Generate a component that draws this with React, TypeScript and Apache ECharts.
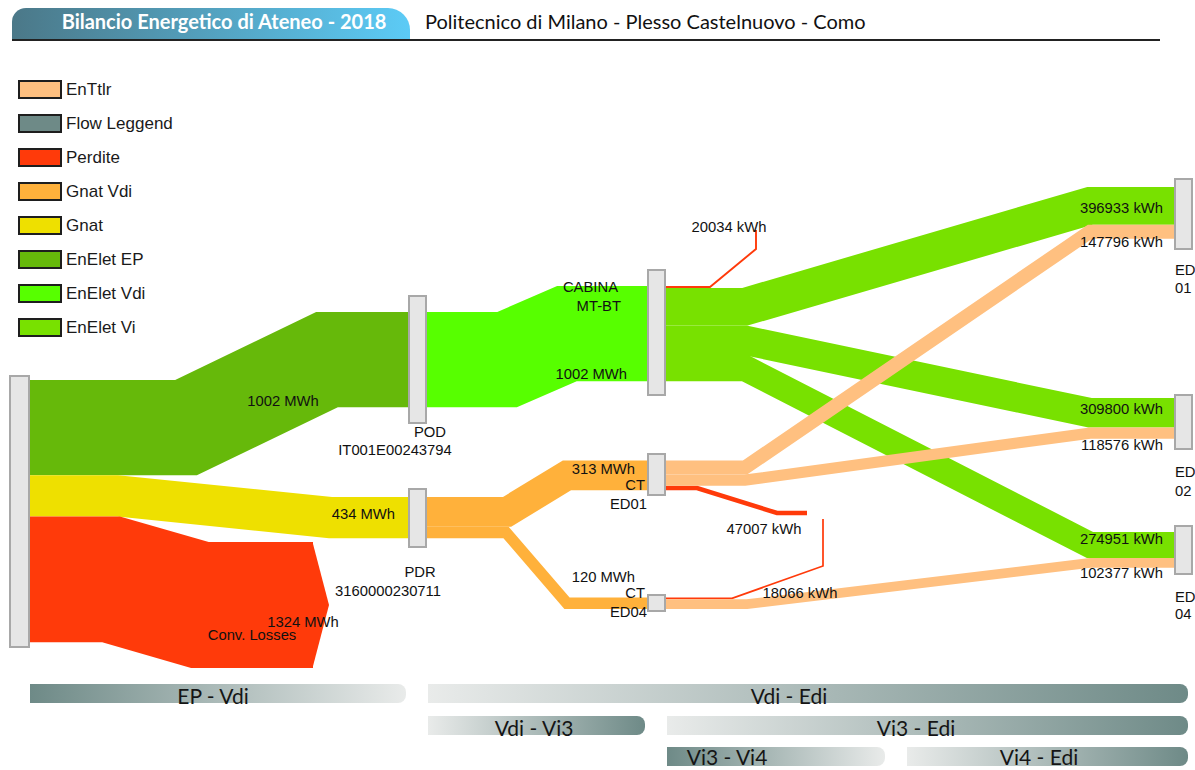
import React, { useEffect, useRef } from "react";
import * as echarts from "echarts";

// ---------------- legend categories ----------------
const categoryNames = ["EnTtlr", "Flow Leggend", "Perdite", "Gnat Vdi", "Gnat", "EnElet EP", "EnElet Vdi", "EnElet Vi"];
const categoryColors = ["#ffc080", "#6e8a87", "#ff3a0a", "#ffb13b", "#eee000", "#66b90a", "#57ff00", "#78e100"];
// drawing order of flow categories (later = on top)
const drawOrder = ["EnElet EP", "Gnat", "Perdite", "EnElet Vdi", "Gnat Vdi", "EnElet Vi", "EnTtlr"];

// ---------------- header ----------------
const titleText = "Bilancio Energetico di Ateneo - 2018";
const subtitleText = "Politecnico di Milano - Plesso Castelnuovo - Como";

// ---------------- nodes (layout units) ----------------
const nodeNames = ["Fonti", "POD", "PDR", "CABINA MT-BT", "CT ED01", "CT ED04", "ED01", "ED02", "ED04"];
const nodeX = [10, 409, 409, 648, 648, 648, 1175, 1175, 1175];
const nodeW = [19, 17, 17, 17, 17, 17, 17, 17, 17];
const nodeTop = [376, 296, 489, 270, 454, 595, 179, 395, 526];
const nodeBottom = [647, 423, 547, 395, 495, 611, 249, 449, 574];
const nodeInStart = [0, 312, 497, 286, 460.5, 597.5, 187, 398, 532];
const nodeOutStart = [380, 312, 497, 286, 460.5, 597.5, 0, 0, 0];

// node labels
const nodeLabelText = ["POD", "IT001E00243794", "PDR", "3160000230711", "CABINA", "MT-BT", "CT", "ED01", "CT", "ED04", "ED", "01", "ED", "02", "ED", "04", "Conv. Losses"];
const nodeLabelX = [430, 395, 420, 388, 618, 621, 645, 647, 645, 647, 1175, 1175, 1175, 1175, 1175, 1175, 252];
const nodeLabelY = [432, 450, 572, 591, 287, 306, 485, 504, 593, 612, 270, 288, 472, 491, 597, 614, 635];
const nodeLabelAlign = ["center", "center", "center", "center", "right", "right", "right", "right", "right", "right", "left", "left", "left", "left", "left", "left", "center"];

// ---------------- flows ----------------
const flowFrom = [0, 0, 0, 1, 2, 2, 3, 3, 3, 3, 4, 4, 4, 5, 5];
const flowTo = [1, 2, -1, 3, 4, 5, -1, 6, 7, 8, 6, 7, -1, -1, 8];
const flowKWh = [1002000, 434000, 1324000, 1002000, 313000, 120000, 20034, 396933, 309800, 274951, 147796, 118576, 47007, 18066, 102377];
const flowCategory = ["EnElet EP", "Gnat", "Perdite", "EnElet Vdi", "Gnat Vdi", "Gnat Vdi", "Perdite", "EnElet Vi", "EnElet Vi", "EnElet Vi", "EnTtlr", "EnTtlr", "Perdite", "Perdite", "EnTtlr"];
const flowUnit = ["MWh", "MWh", "MWh", "MWh", "MWh", "MWh", "kWh", "kWh", "kWh", "kWh", "kWh", "kWh", "kWh", "kWh", "kWh"];
// route bends (x of the two elbows)
const flowBend1 = [186, 117, 111, 507, 507, 506, 710, 745, 745, 745, 745, 745, 697, 732, 747];
const flowBend2 = [327, 330, 200, 567, 567, 567, 756, 1090, 1090, 1090, 1090, 1090, 777, 823, 1090];
// open-ended flows (losses): y at second elbow, tail end point, arrow head
const flowEndY = [0, 0, 605, 0, 0, 0, 249, 0, 0, 0, 0, 0, 513, 566, 0];
const flowTailX = [0, 0, 313, 0, 0, 0, 756, 0, 0, 0, 0, 0, 807, 823, 0];
const flowTailY = [0, 0, 605, 0, 0, 0, 230, 0, 0, 0, 0, 0, 513, 519, 0];
const flowArrow = [false, false, true, false, false, false, false, false, false, false, false, false, false, false, false];
// value label anchors
const flowLabelX = [283, 395, 303, 627, 635, 635, 729, 1163, 1163, 1163, 1163, 1163, 764, 800, 1163];
const flowLabelY = [401, 514, 622, 374, 469, 577, 227, 208, 409, 539, 242, 445, 529, 593, 573];
const flowLabelAlign = ["center", "right", "center", "right", "right", "right", "center", "right", "right", "right", "right", "right", "center", "center", "right"];

const UNITS_PER_KWH = 0.000095;
const ARROW_LEN = 16;

// ---------------- stage bars (Flow Leggend) ----------------
const stageNames = ["EP - Vdi", "Vdi - Edi", "Vdi - Vi3", "Vi3 - Edi", "Vi3 - Vi4", "Vi4 - Edi"];
const stageStart = [30, 428, 428, 667, 667, 907];
const stageEnd = [406, 1188, 645, 1188, 885, 1188];
const stageRow = [0, 0, 1, 1, 2, 2];
const stageDarkLeft = [true, false, false, false, true, false];
const stageTextX = [213, 789, 534, 916, 727, 1039];
const rowTop = [684, 716, 747];
const rowTextDy = [2, 2, 0];
const ROW_H = 19;

// ---------------- derived layout ----------------
const flowWidth = flowKWh.map((v) => v * UNITS_PER_KWH);
const flowPoints: number[][][] = [];
(() => {
  const outCur = nodeOutStart.slice();
  const inCur = nodeInStart.slice();
  for (let i = 0; i < flowKWh.length; i++) {
    const w = flowWidth[i];
    const s = flowFrom[i];
    const y0 = outCur[s] + w / 2;
    outCur[s] += w;
    const sx = nodeX[s] + nodeW[s];
    const t = flowTo[i];
    if (t >= 0) {
      const y1 = inCur[t] + w / 2;
      inCur[t] += w;
      flowPoints.push([[sx, y0], [flowBend1[i], y0], [flowBend2[i], y1], [nodeX[t], y1]]);
    } else {
      flowPoints.push([[sx, y0], [flowBend1[i], y0], [flowBend2[i], flowEndY[i]], [flowTailX[i], flowTailY[i]]]);
    }
  }
})();

const colorOf = (cat: string) => categoryColors[categoryNames.indexOf(cat)];
const LABEL_FONT = "14.8px 'Liberation Sans', Arial, sans-serif";

export default function App() {
  const ref = useRef<HTMLDivElement>(null);

  useEffect(() => {
    document.body.style.margin = "0";
    const chart = echarts.init(ref.current!, null, { renderer: "svg" });

    const renderFlow = (params: any, api: any) => {
      const i = api.value(0);
      const pts = flowPoints[i].map((p) => api.coord(p));
      const w = api.size([0, flowWidth[i]])[1];
      const color = colorOf(flowCategory[i]);
      const children: any[] = [
        {
          type: "polyline",
          shape: { points: pts },
          style: { fill: "none", stroke: color, lineWidth: w, lineJoin: "miter", miterLimit: 10, lineCap: "butt" },
        },
      ];
      if (flowArrow[i]) {
        const last = flowPoints[i][flowPoints[i].length - 1];
        const top = api.coord([last[0] - 0.5, last[1] - flowWidth[i] / 2]);
        const tip = api.coord([last[0] + ARROW_LEN, last[1]]);
        const bot = api.coord([last[0] - 0.5, last[1] + flowWidth[i] / 2]);
        children.push({ type: "polygon", shape: { points: [top, tip, bot] }, style: { fill: color } });
      }
      return { type: "group", children };
    };

    const flowSeries = drawOrder.map((cat, k) => ({
      type: "custom",
      name: cat,
      coordinateSystem: "cartesian2d",
      silent: true,
      z: 2 + k * 0.01,
      itemStyle: { color: colorOf(cat) },
      data: flowKWh.map((_, i) => i).filter((i) => flowCategory[i] === cat).map((i) => [i, 0]),
      renderItem: renderFlow,
    }));

    const stageSeries = {
      type: "custom",
      name: "Flow Leggend",
      coordinateSystem: "cartesian2d",
      silent: true,
      z: 2,
      itemStyle: { color: colorOf("Flow Leggend") },
      data: stageNames.map((_, i) => [i, 0]),
      renderItem: (params: any, api: any) => {
        const i = api.value(0);
        const r = stageRow[i];
        const p0 = api.coord([stageStart[i], rowTop[r]]);
        const p1 = api.coord([stageEnd[i], rowTop[r] + ROW_H]);
        const dark = "#6e8a87";
        const light = "#e9ebea";
        const stops = stageDarkLeft[i]
          ? [{ offset: 0, color: dark }, { offset: 1, color: light }]
          : [{ offset: 0, color: light }, { offset: 1, color: dark }];
        const tx = api.coord([stageTextX[i], rowTop[r]])[0];
        return {
          type: "group",
          children: [
            {
              type: "rect",
              shape: { x: p0[0], y: p0[1], width: p1[0] - p0[0], height: p1[1] - p0[1], r: [0, 8, 8, 0] },
              style: { fill: new echarts.graphic.LinearGradient(0, 0, 1, 0, stops) },
            },
            {
              type: "text",
              x: tx,
              y: (p0[1] + p1[1]) / 2 + rowTextDy[r],
              style: { text: stageNames[i], fill: "#151515", font: "21px Lato, 'Liberation Sans', sans-serif", align: "center", verticalAlign: "middle" },
            },
          ],
        };
      },
    };

    const nodeSeries = {
      type: "custom",
      name: "nodes",
      coordinateSystem: "cartesian2d",
      silent: true,
      z: 5,
      data: nodeNames.map((_, i) => [i, 0]),
      renderItem: (params: any, api: any) => {
        const i = api.value(0);
        const p0 = api.coord([nodeX[i], nodeTop[i]]);
        const p1 = api.coord([nodeX[i] + nodeW[i], nodeBottom[i]]);
        return {
          type: "rect",
          shape: { x: p0[0], y: p0[1], width: p1[0] - p0[0], height: p1[1] - p0[1] },
          style: { fill: "#e6e6e6", stroke: "#a8a8a8", lineWidth: 2 },
        };
      },
    };

    const flowLabelSeries = {
      type: "custom",
      name: "flowLabels",
      coordinateSystem: "cartesian2d",
      silent: true,
      z: 6,
      data: flowKWh.map((_, i) => [i, 0]),
      renderItem: (params: any, api: any) => {
        const i = api.value(0);
        const p = api.coord([flowLabelX[i], flowLabelY[i]]);
        const v = flowUnit[i] === "MWh" ? Math.round(flowKWh[i] / 1000) : flowKWh[i];
        return {
          type: "text",
          x: p[0],
          y: p[1],
          style: { text: `${v} ${flowUnit[i]}`, fill: "#111", font: LABEL_FONT, align: flowLabelAlign[i], verticalAlign: "middle" },
        };
      },
    };

    const nodeLabelSeries = {
      type: "custom",
      name: "nodeLabels",
      coordinateSystem: "cartesian2d",
      silent: true,
      z: 6,
      data: nodeLabelText.map((_, i) => [i, 0]),
      renderItem: (params: any, api: any) => {
        const i = api.value(0);
        const p = api.coord([nodeLabelX[i], nodeLabelY[i]]);
        return {
          type: "text",
          x: p[0],
          y: p[1],
          style: { text: nodeLabelText[i], fill: "#111", font: LABEL_FONT, align: nodeLabelAlign[i], verticalAlign: "middle" },
        };
      },
    };

    chart.setOption({
      animation: false,
      grid: { left: 0, top: 0, right: 0, bottom: 0, containLabel: false },
      xAxis: { type: "value", min: 0, max: 1195, show: false },
      yAxis: { type: "value", min: 0, max: 770, inverse: true, show: false },
      legend: {
        orient: "vertical",
        left: 13,
        top: 75,
        itemWidth: 42,
        itemHeight: 17,
        itemGap: 15,
        icon: "rect",
        selectedMode: false,
        textStyle: { fontSize: 17, lineHeight: 17, fontFamily: "'Liberation Sans', Arial, sans-serif", color: "#1a1a1a" },
        data: categoryNames.map((c, i) => ({
          name: c,
          itemStyle: { color: categoryColors[i], borderColor: "#1e1e1e", borderWidth: 2 },
        })),
      },
      graphic: [
        {
          type: "rect",
          shape: { x: 12, y: 8, width: 398, height: 31, r: [14, 22, 0, 0] },
          style: {
            fill: new echarts.graphic.LinearGradient(0, 0, 1, 0, [
              { offset: 0, color: "#4b7888" },
              { offset: 1, color: "#5ccbf6" },
            ]),
          },
        },
        {
          type: "text",
          x: 224,
          y: 21,
          style: {
            text: titleText,
            fill: "#ffffff",
            fontSize: 20,
            fontWeight: "bold",
            fontFamily: "Lato, 'Liberation Sans', sans-serif",
            align: "center",
            verticalAlign: "middle",
          },
        },
        {
          type: "text",
          x: 425,
          y: 21,
          style: {
            text: subtitleText,
            fill: "#111111",
            fontSize: 20,
            fontFamily: "Lato, 'Liberation Sans', sans-serif",
            align: "left",
            verticalAlign: "middle",
          },
        },
        {
          type: "line",
          shape: { x1: 12, y1: 40, x2: 1160, y2: 40 },
          style: { stroke: "#222222", lineWidth: 2 },
        },
      ],
      series: [...flowSeries, stageSeries, nodeSeries, flowLabelSeries, nodeLabelSeries],
    });

    return () => chart.dispose();
  }, []);

  return <div ref={ref} style={{ width: 1195, height: 770 }} />;
}
